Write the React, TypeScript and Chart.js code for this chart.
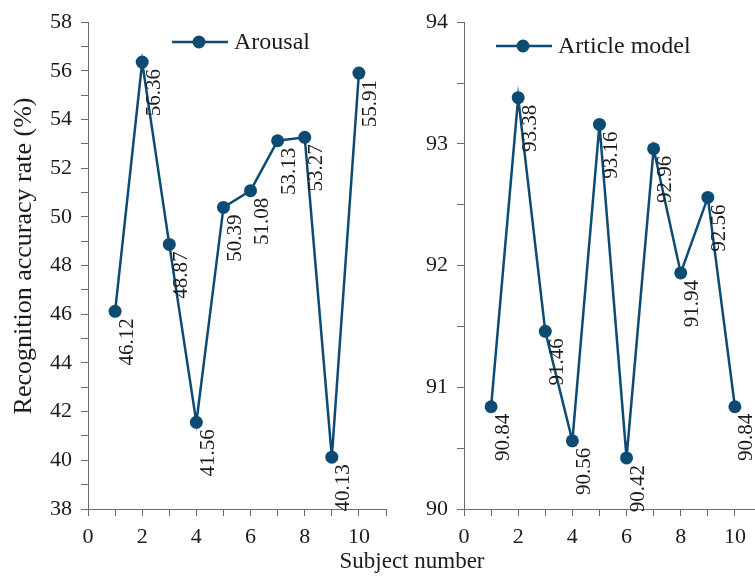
import React, { useEffect, useRef } from 'react';
import { Chart, registerables } from 'chart.js';

Chart.register(...registerables);

// ---- data ----
const subjects = [1, 2, 3, 4, 5, 6, 7, 8, 9, 10];
const arousalValues = [46.12, 56.36, 48.87, 41.56, 50.39, 51.08, 53.13, 53.27, 40.13, 55.91];
const articleValues = [90.84, 93.38, 91.46, 90.56, 93.16, 90.42, 92.96, 91.94, 92.56, 90.84];
const xTickLabels = [0, 2, 4, 6, 8, 10];
const leftYTickLabels = [38, 40, 42, 44, 46, 48, 50, 52, 54, 56, 58];
const rightYTickLabels = [90, 91, 92, 93, 94];
const arousalLabel = 'Arousal';
const articleLabel = 'Article model';
const yTitle = 'Recognition accuracy rate (%)';
const xTitle = 'Subject number';

const FONT = '"Liberation Serif", "Times New Roman", serif';
const LINE_COLOR = '#0e4b73';
const AXIS_COLOR = '#6b6b6b';

type PanelOpts = {
  values: number[];
  name: string;
  yMin: number;
  yMax: number;
  yStep: number;
  yLabels: number[];
  yWidth: number;
  padRight: number;
  legendX: number;
  legendY: number;
  drawYTitle: boolean;
};

function makeConfig(o: PanelOpts): any {
  const dataLabelPlugin = {
    id: 'rotLabels',
    afterDatasetsDraw(chart: any) {
      const ctx = chart.ctx;
      const meta = chart.getDatasetMeta(0);
      ctx.save();
      ctx.font = `21px ${FONT}`;
      ctx.fillStyle = '#1b1b1b';
      meta.data.forEach((pt: any, i: number) => {
        ctx.save();
        ctx.translate(pt.x + 12, pt.y + 7);
        ctx.rotate(-Math.PI / 2);
        ctx.textAlign = 'right';
        ctx.textBaseline = 'middle';
        ctx.fillText(o.values[i].toFixed(2), 0, 0);
        ctx.restore();
      });
      ctx.restore();
    },
  };
  const legendPlugin = {
    id: 'customLegend',
    afterDraw(chart: any) {
      const ctx = chart.ctx;
      ctx.save();
      const x0 = o.legendX;
      const y = o.legendY;
      ctx.strokeStyle = LINE_COLOR;
      ctx.lineWidth = 2.5;
      ctx.beginPath();
      ctx.moveTo(x0, y);
      ctx.lineTo(x0 + 56, y);
      ctx.stroke();
      ctx.fillStyle = LINE_COLOR;
      ctx.beginPath();
      ctx.arc(x0 + 27, y, 6.5, 0, Math.PI * 2);
      ctx.fill();
      ctx.fillStyle = '#1b1b1b';
      ctx.font = `24px ${FONT}`;
      ctx.textAlign = 'left';
      ctx.textBaseline = 'middle';
      ctx.fillText(o.name, x0 + 62, y + 1);
      if (o.drawYTitle) {
        ctx.save();
        ctx.translate(24, 256);
        ctx.rotate(-Math.PI / 2);
        ctx.textAlign = 'center';
        ctx.textBaseline = 'middle';
        ctx.font = `26px ${FONT}`;
        ctx.fillText(yTitle, 0, 0);
        ctx.restore();
      }
      ctx.restore();
    },
  };
  return {
    type: 'line',
    data: {
      datasets: [
        {
          label: o.name,
          data: subjects.map((s, i) => ({ x: s, y: o.values[i] })),
          borderColor: LINE_COLOR,
          backgroundColor: LINE_COLOR,
          borderWidth: 2.5,
          pointRadius: 6.5,
          pointBackgroundColor: LINE_COLOR,
          pointBorderWidth: 0,
          tension: 0,
          clip: false,
        },
      ],
    },
    options: {
      responsive: false,
      animation: false,
      devicePixelRatio: 1,
      layout: { padding: { top: 20, right: o.padRight, bottom: 0, left: 0 } },
      plugins: { legend: { display: false }, tooltip: { enabled: false } },
      scales: {
        x: {
          type: 'linear',
          min: 0,
          max: 11,
          afterFit: (s: any) => {
            s.height = 68;
          },
          ticks: {
            stepSize: 1,
            autoSkip: false,
            maxRotation: 0,
            padding: 8,
            color: '#1b1b1b',
            font: { family: FONT, size: 22 },
            callback: (v: any) => (xTickLabels.includes(Number(v)) ? String(v) : ''),
          },
          grid: {
            drawOnChartArea: false,
            drawTicks: true,
            tickLength: 7,
            tickColor: AXIS_COLOR,
            tickWidth: 1,
          },
          border: { color: AXIS_COLOR, width: 1 },
        },
        y: {
          type: 'linear',
          min: o.yMin,
          max: o.yMax,
          afterFit: (s: any) => {
            s.width = o.yWidth;
          },
          ticks: {
            stepSize: o.yStep,
            autoSkip: false,
            padding: 9,
            color: '#1b1b1b',
            font: { family: FONT, size: 22 },
            callback: (v: any) => (o.yLabels.includes(Number(v)) ? String(v) : ''),
          },
          grid: {
            drawOnChartArea: false,
            drawTicks: true,
            tickLength: 7,
            tickColor: AXIS_COLOR,
            tickWidth: 1,
          },
          border: { color: AXIS_COLOR, width: 1 },
        },
      },
    },
    plugins: [dataLabelPlugin, legendPlugin],
  };
}

function Panel({ left, width, opts }: { left: number; width: number; opts: PanelOpts }) {
  const ref = useRef<HTMLCanvasElement | null>(null);
  useEffect(() => {
    if (!ref.current) return;
    const chart = new Chart(ref.current, makeConfig(opts));
    return () => chart.destroy();
  }, []);
  return (
    <canvas
      ref={ref}
      width={width}
      height={577}
      style={{ position: 'absolute', left, top: 0, width, height: 577 }}
    />
  );
}

export default function App() {
  return (
    <div
      style={{
        position: 'absolute',
        left: 0,
        top: 0,
        width: 755,
        height: 577,
        overflow: 'hidden',
        background: '#ffffff',
      }}
    >
      <Panel
        left={0}
        width={400}
        opts={{
          values: arousalValues,
          name: arousalLabel,
          yMin: 38,
          yMax: 58,
          yStep: 1,
          yLabels: leftYTickLabels,
          yWidth: 88,
          padRight: 14,
          legendX: 172,
          legendY: 42,
          drawYTitle: true,
        }}
      />
      <Panel
        left={380}
        width={400}
        opts={{
          values: articleValues,
          name: articleLabel,
          yMin: 90,
          yMax: 94,
          yStep: 0.5,
          yLabels: rightYTickLabels,
          yWidth: 84,
          padRight: 18,
          legendX: 116,
          legendY: 46,
          drawYTitle: false,
        }}
      />
      <div
        style={{
          position: 'absolute',
          left: 0,
          width: 824,
          top: 547,
          textAlign: 'center',
          fontFamily: FONT,
          fontSize: 23,
          lineHeight: '28px',
          color: '#1b1b1b',
          whiteSpace: 'nowrap',
        }}
      >
        {xTitle}
      </div>
    </div>
  );
}
